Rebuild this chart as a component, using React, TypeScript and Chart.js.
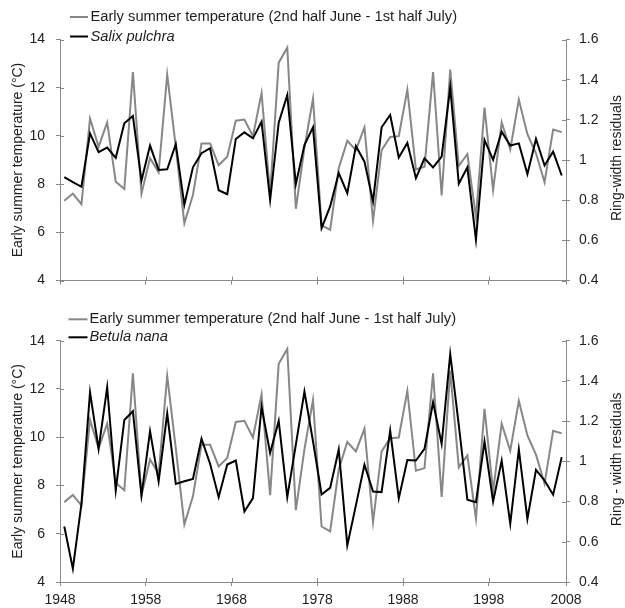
import React, { useEffect, useRef } from 'react';
import { Chart, registerables } from 'chart.js';

Chart.register(...registerables);

// ---------- data ----------
const years = [
  1948, 1949, 1950, 1951, 1952, 1953, 1954, 1955, 1956, 1957,
  1958, 1959, 1960, 1961, 1962, 1963, 1964, 1965, 1966, 1967,
  1968, 1969, 1970, 1971, 1972, 1973, 1974, 1975, 1976, 1977,
  1978, 1979, 1980, 1981, 1982, 1983, 1984, 1985, 1986, 1987,
  1988, 1989, 1990, 1991, 1992, 1993, 1994, 1995, 1996, 1997,
  1998, 1999, 2000, 2001, 2002, 2003, 2004, 2005, 2006,
];

const temperature = [
  7.31, 7.61, 7.17, 10.72, 9.55, 10.56, 8.1, 7.8, 12.65, 7.6,
  9.08, 8.49, 12.54, 9.55, 6.38, 7.55, 9.69, 9.69, 8.79, 9.14,
  10.63, 10.68, 9.99, 11.78, 7.6, 13.04, 13.66, 6.98, 9.5, 11.55,
  6.3, 6.1, 8.66, 9.8, 9.41, 10.35, 6.48, 9.41, 9.96, 9.99,
  11.92, 8.61, 8.72, 12.65, 7.53, 12.75, 8.75, 9.25, 6.63, 11.18,
  7.76, 10.56, 9.44, 11.51, 10.07, 9.28, 8.08, 10.27, 10.16,
];

const salixPulchra = [
  0.915, 0.89, 0.867, 1.133, 1.039, 1.062, 1.011, 1.183, 1.219, 0.898,
  1.072, 0.951, 0.954, 1.079, 0.777, 0.964, 1.034, 1.059, 0.85, 0.83,
  1.105, 1.138, 1.108, 1.191, 0.802, 1.186, 1.323, 0.88, 1.075, 1.163,
  0.661, 0.769, 0.935, 0.835, 1.07, 0.992, 0.794, 1.163, 1.224, 1.013,
  1.085, 0.91, 1.009, 0.963, 1.017, 1.362, 0.882, 0.964, 0.604, 1.1,
  1.001, 1.141, 1.072, 1.083, 0.93, 1.105, 0.973, 1.042, 0.923,
];

const betulaNana = [
  0.676, 0.466, 0.789, 1.343, 1.062, 1.368, 0.855, 1.206, 1.249, 0.83,
  1.15, 0.9, 1.239, 0.888, 0.901, 0.913, 1.112, 0.988, 0.822, 0.984,
  1.004, 0.751, 0.817, 1.272, 1.042, 1.201, 0.822, 1.083, 1.347, 1.1,
  0.835, 0.868, 1.059, 0.582, 0.781, 0.983, 0.85, 0.847, 1.153, 0.816,
  1.007, 1.004, 1.062, 1.294, 1.087, 1.534, 1.18, 0.809, 0.797, 1.098,
  0.8, 1.004, 0.69, 1.059, 0.714, 0.958, 0.905, 0.834, 1.021,
];

const temperatureLabel = 'Early summer temperature (2nd half June - 1st half July)';
const leftAxisTitle = 'Early summer temperature (°C)';
const xTickYears = [1948, 1958, 1968, 1978, 1988, 1998, 2007];
const xTickLabels = ['1948', '1958', '1968', '1978', '1988', '1998', '2008'];
const tempRange = [4, 14, 2];
const ringRange = [0.4, 1.6, 0.2];

// ---------- styles ----------
const FONT = '"Liberation Sans", Arial, Helvetica, sans-serif';
const AXIS = '#898989';
const GRAY = '#878787';
const TEXT = '#1e1e1e';

const panelLegend = {
  id: 'panelLegend',
  afterDraw(chart: any, _args: any, opts: any) {
    const { ctx, chartArea } = chart;
    const offsets = opts.offsets || [-22, -3.2];
    ctx.save();
    chart.data.datasets.forEach((ds: any, i: number) => {
      const y = chartArea.top + offsets[i];
      ctx.strokeStyle = ds.borderColor;
      ctx.lineWidth = 2;
      ctx.beginPath();
      ctx.moveTo(opts.swatchX0, y);
      ctx.lineTo(opts.swatchX1, y);
      ctx.stroke();
      ctx.fillStyle = TEXT;
      ctx.textBaseline = 'middle';
      ctx.textAlign = 'left';
      ctx.font = (i === 1 ? 'italic ' : '') + opts.fontSize + 'px ' + FONT;
      ctx.fillText(ds.label, opts.textX, y);
    });
    ctx.restore();
  },
};

// right-hand axis title, reading bottom-to-top like the left one
const rightTitle = {
  id: 'rightTitle',
  afterDraw(chart: any, _args: any, opts: any) {
    const { ctx, chartArea } = chart;
    ctx.save();
    ctx.translate(opts.x, (chartArea.top + chartArea.bottom) / 2 + (opts.dy || 0));
    ctx.rotate(-Math.PI / 2);
    ctx.fillStyle = TEXT;
    ctx.textAlign = 'center';
    ctx.textBaseline = 'middle';
    ctx.font = '14px ' + FONT;
    ctx.fillText(opts.text, 0, 0);
    ctx.restore();
  },
};

const crossTicks = {
  id: 'crossTicks',
  afterDraw(chart: any) {
    const { ctx, chartArea, scales } = chart;
    const len = 4;
    ctx.save();
    ctx.strokeStyle = AXIS;
    ctx.lineWidth = 1;
    ctx.beginPath();
    scales.x.ticks.forEach((t: any) => {
      const px = Math.round(scales.x.getPixelForValue(t.value)) + 0.5;
      ctx.moveTo(px, chartArea.bottom);
      ctx.lineTo(px, chartArea.bottom - len);
    });
    scales.y.ticks.forEach((t: any) => {
      const py = Math.round(scales.y.getPixelForValue(t.value)) + 0.5;
      ctx.moveTo(chartArea.left, py);
      ctx.lineTo(chartArea.left + len, py);
    });
    scales.y2.ticks.forEach((t: any) => {
      const py = Math.round(scales.y2.getPixelForValue(t.value)) + 0.5;
      ctx.moveTo(chartArea.right, py);
      ctx.lineTo(chartArea.right - len, py);
    });
    ctx.stroke();
    ctx.restore();
  },
};

type PanelProps = {
  height: number;
  topPad: number;
  axisHeight: number;
  species: string;
  values: number[];
  rightTitle: string;
  showXLabels: boolean;
  legendOffsets: number[];
  swatchX0: number;
  swatchX1: number;
  textX: number;
};

function Panel(p: PanelProps) {
  const ref = useRef<HTMLCanvasElement>(null);
  useEffect(() => {
    const tickFont = { family: FONT, size: 14 };
    const grid = {
      display: true,
      drawOnChartArea: false,
      drawTicks: true,
      tickLength: 4,
      color: AXIS,
      lineWidth: 1,
    };
    const border = { display: true, color: AXIS, width: 1 };
    const chart = new Chart(ref.current as HTMLCanvasElement, {
      type: 'line',
      data: {
        datasets: [
          {
            label: temperatureLabel,
            data: years.map((y, i) => ({ x: y + 0.5, y: temperature[i] })),
            borderColor: GRAY,
            borderWidth: 2,
            pointRadius: 0,
            tension: 0,
            yAxisID: 'y',
            order: 2,
          },
          {
            label: p.species,
            data: years.map((y, i) => ({ x: y + 0.5, y: p.values[i] })),
            borderColor: '#000000',
            borderWidth: 2,
            pointRadius: 0,
            tension: 0,
            yAxisID: 'y2',
            order: 1,
          },
        ],
      },
      options: {
        animation: false,
        responsive: true,
        maintainAspectRatio: false,
        events: [],
        layout: { padding: { top: p.topPad, left: 0, right: 0, bottom: 0 } },
        plugins: {
          legend: { display: false },
          tooltip: { enabled: false },
          panelLegend: {
            offsets: p.legendOffsets,
            swatchX0: p.swatchX0,
            swatchX1: p.swatchX1,
            textX: p.textX,
            fontSize: 14.7,
          },
          rightTitle: { text: p.rightTitle, x: 617, dy: -2 },
        } as any,
        scales: {
          x: {
            type: 'linear',
            min: xTickYears[0],
            max: xTickYears[xTickYears.length - 1],
            afterBuildTicks: (s: any) => {
              s.ticks = xTickYears.map((v) => ({ value: v }));
            },
            afterFit: (s: any) => {
              s.height = p.axisHeight;
            },
            ticks: {
              display: p.showXLabels,
              autoSkip: false,
              maxRotation: 0,
              padding: 6,
              font: tickFont,
              color: TEXT,
              callback: (_v: any, i: number) => xTickLabels[i],
            },
            grid,
            border,
          },
          y: {
            type: 'linear',
            position: 'left',
            min: tempRange[0],
            max: tempRange[1],
            afterFit: (s: any) => {
              s.width = 60;
            },
            ticks: { stepSize: tempRange[2], padding: 11, font: tickFont, color: TEXT },
            title: {
              display: true,
              text: leftAxisTitle,
              font: { family: FONT, size: 14 },
              color: TEXT,
              padding: { top: 10, bottom: 0 },
            },
            grid,
            border,
          },
          y2: {
            type: 'linear',
            position: 'right',
            min: ringRange[0],
            max: ringRange[1],
            afterFit: (s: any) => {
              s.width = 59;
            },
            ticks: {
              stepSize: ringRange[2],
              padding: 9,
              font: tickFont,
              color: TEXT,
              callback: (v: any) => String(Math.round(Number(v) * 10) / 10),
            },
            title: { display: false },
            grid,
            border,
          },
        } as any,
      },
      plugins: [panelLegend, rightTitle, crossTicks],
    } as any);
    return () => chart.destroy();
  }, []);
  return (
    <div style={{ position: 'relative', width: 625, height: p.height }}>
      <canvas ref={ref} />
    </div>
  );
}

export default function App() {
  return (
    <div style={{ position: 'absolute', left: 0, top: 0, width: 625, height: 608, background: '#fff' }}>
      <Panel
        height={300}
        topPad={39.5}
        axisHeight={18.3}
        species="Salix pulchra"
        values={salixPulchra}
        rightTitle="Ring-width residuals"
        showXLabels={false}
        legendOffsets={[-22.5, -3]}
        swatchX0={70}
        swatchX1={88}
        textX={90.5}
      />
      <Panel
        height={308}
        topPad={40.7}
        axisHeight={26}
        species="Betula nana"
        values={betulaNana}
        rightTitle="Ring - width residuals"
        showXLabels={true}
        legendOffsets={[-21.4, -3.4]}
        swatchX0={68.5}
        swatchX1={87.5}
        textX={89.5}
      />
    </div>
  );
}
